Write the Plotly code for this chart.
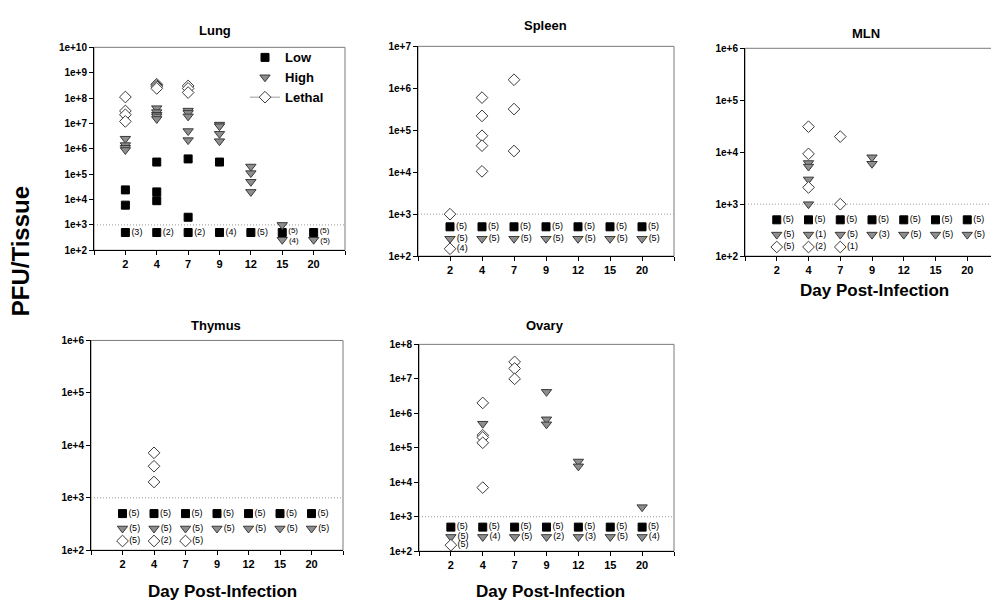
import plotly.graph_objects as go

# ---------------- data ----------------
DAYS = [2, 4, 7, 9, 12, 15, 20]
DAY_LABELS = ["2", "4", "7", "9", "12", "15", "20"]

# values plotted at the limit of detection for each group (non-detected animals)
LOD_LOW = 500
LOD_HIGH = 260
LOD_LETHAL = 150
DETECTION_LINE = 1000

# detected titers (PFU/tissue) per organ / group / day
lung_low = {2: [2.4e4, 6e3], 4: [3e5, 2e4, 9e3], 7: [4e5, 2e3], 9: [3e5]}
lung_high = {2: [2.5e6, 1.4e6, 1.1e6, 9e5], 4: [4e7, 2.8e7, 2.2e7, 1.9e7, 1.5e7],
             7: [3.2e7, 2.6e7, 1.9e7, 5e6, 2.2e6], 9: [9e6, 7.8e6, 3.9e6, 2e6],
             12: [2e5, 1.1e5, 5e4, 2e4], 15: [1e3]}
lung_lethal = {2: [1.1e8, 3.1e7, 2.2e7, 1.2e7], 4: [3.5e8, 3.1e8, 2.8e8, 2.4e8],
               7: [3e8, 2.4e8, 1.65e8]}
lung_low_n = {2: 3, 4: 2, 7: 2, 9: 4, 12: 5, 15: 5, 20: 5}
lung_high_n = {15: 4, 20: 5}
lung_lethal_n = {}

spleen_low = {}
spleen_high = {}
spleen_lethal = {2: [1e3], 4: [6e5, 2.2e5, 7.4e4, 4.3e4, 1.05e4], 7: [1.6e6, 3.2e5, 3.2e4]}
spleen_low_n = {2: 5, 4: 5, 7: 5, 9: 5, 12: 5, 15: 5, 20: 5}
spleen_high_n = {2: 5, 4: 5, 7: 5, 9: 5, 12: 5, 15: 5, 20: 5}
spleen_lethal_n = {2: 4}

mln_low = {}
mln_high = {4: [6.2e3, 5.3e3, 3e3, 1e3], 9: [8e3, 6e3]}
mln_lethal = {4: [3.1e4, 9.3e3, 2.1e3], 7: [2e4, 1e3]}
mln_low_n = {2: 5, 4: 5, 7: 5, 9: 5, 12: 5, 15: 5, 20: 5}
mln_high_n = {2: 5, 4: 1, 7: 5, 9: 3, 12: 5, 15: 5, 20: 5}
mln_lethal_n = {2: 5, 4: 2, 7: 1}

thymus_low = {}
thymus_high = {}
thymus_lethal = {4: [7.2e3, 4e3, 2e3]}
thymus_low_n = {2: 5, 4: 5, 7: 5, 9: 5, 12: 5, 15: 5, 20: 5}
thymus_high_n = {2: 5, 4: 5, 7: 5, 9: 5, 12: 5, 15: 5, 20: 5}
thymus_lethal_n = {2: 5, 4: 2, 7: 5}

ovary_low = {}
ovary_high = {4: [5e5], 9: [4.2e6, 6.7e5, 4.8e5], 12: [4e4, 2.9e4], 20: [1.9e3]}
ovary_lethal = {4: [2e6, 2.3e5, 2e5, 1.4e5, 7e3], 7: [3.1e7, 2e7, 1e7]}
ovary_low_n = {2: 5, 4: 5, 7: 5, 9: 5, 12: 5, 15: 5, 20: 5}
ovary_high_n = {2: 5, 4: 4, 7: 5, 9: 2, 12: 3, 15: 5, 20: 4}
ovary_lethal_n = {2: 5}

# ---------------- styling ----------------
W, H = 999, 610
FONT = "Liberation Sans, Arial, sans-serif"

STYLE = {
    "Low": dict(symbol="square", size=8, color="#000000", line=dict(color="#000000", width=1)),
    "High": dict(symbol="triangle-down", size=9, color="#8e8e8e", line=dict(color="#3a3a3a", width=1)),
    "Lethal": dict(symbol="diamond", size=9, color="#ffffff", line=dict(color="#3a3a3a", width=1)),
}
LOD = {"Low": LOD_LOW, "High": LOD_HIGH, "Lethal": LOD_LETHAL}

# panel boxes in pixels: (left, right, top, bottom), y decades range
PANELS = [
    dict(name="Lung", box=(86, 337, 34, 241), yr=(2, 10), title_xy=(207, 17), xlabel=None,
         data=(lung_low, lung_high, lung_lethal), n=(lung_low_n, lung_high_n, lung_lethal_n)),
    dict(name="Spleen", box=(410, 666, 33, 247), yr=(2, 7), title_xy=(537, 12), xlabel=None,
         data=(spleen_low, spleen_high, spleen_lethal), n=(spleen_low_n, spleen_high_n, spleen_lethal_n)),
    dict(name="MLN", box=(737, 991, 35, 247), yr=(2, 6), title_xy=(858, 20), xlabel=(866, 282),
         data=(mln_low, mln_high, mln_lethal), n=(mln_low_n, mln_high_n, mln_lethal_n)),
    dict(name="Thymus", box=(83, 335, 333, 547), yr=(2, 6), title_xy=(208, 318), xlabel=(214, 589),
         data=(thymus_low, thymus_high, thymus_lethal), n=(thymus_low_n, thymus_high_n, thymus_lethal_n)),
    dict(name="Ovary", box=(411, 666, 337, 548), yr=(2, 8), title_xy=(537, 318), xlabel=(542, 589),
         data=(ovary_low, ovary_high, ovary_lethal), n=(ovary_low_n, ovary_high_n, ovary_lethal_n)),
]

fig = go.Figure()
layout = dict(width=W, height=H, margin=dict(l=0, r=0, t=0, b=0), autosize=False,
              paper_bgcolor="white", plot_bgcolor="white",
              font=dict(family=FONT, color="#000000"), showlegend=True)
annotations = []
shapes = []

pos = {d: i + 1 for i, d in enumerate(DAYS)}

for k, p in enumerate(PANELS):
    ax = "" if k == 0 else str(k + 1)
    xa, ya = "x" + ax, "y" + ax
    l, r, t, b = p["box"]
    lo, hi = p["yr"]
    layout["xaxis" + ax] = dict(
        domain=[l / W, r / W], anchor=ya, range=[0, 8],
        tickvals=list(range(0, 9)), ticktext=[""] + DAY_LABELS + [""],
        ticks="outside", ticklen=4, tickcolor="#000", showgrid=False, zeroline=False,
        showline=True, linecolor="#000", linewidth=1,
        tickfont=dict(size=11, family=FONT, weight="bold"), fixedrange=True)
    layout["yaxis" + ax] = dict(
        domain=[1 - b / H, 1 - t / H], anchor=xa, type="log", range=[lo, hi],
        tickvals=[10 ** e for e in range(lo, hi + 1)],
        ticktext=["1e+%d" % e for e in range(lo, hi + 1)],
        ticks="outside", ticklen=4, tickcolor="#000", showgrid=False, zeroline=False,
        showline=True, linecolor="#000", linewidth=1,
        tickfont=dict(size=10, family=FONT, weight="bold"), fixedrange=True)
    # frame (top/right lines in gray)
    shapes.append(dict(type="rect", xref=xa + " domain", yref=ya + " domain", x0=0, x1=1, y0=0, y1=1,
                       line=dict(color="#7a7a7a", width=1), layer="below"))
    # limit of detection line
    shapes.append(dict(type="line", xref=xa + " domain", yref=ya, x0=0, x1=1,
                       y0=DETECTION_LINE, y1=DETECTION_LINE,
                       line=dict(color="#9a9a9a", width=1, dash="1px,2px"), layer="below"))
    annotations.append(dict(text="<b>%s</b>" % p["name"], x=p["title_xy"][0] / W, y=1 - p["title_xy"][1] / H,
                            xref="paper", yref="paper", showarrow=False, xanchor="center", yanchor="middle",
                            font=dict(size=13, family=FONT)))
    if p["xlabel"]:
        annotations.append(dict(text="<b>Day Post-Infection</b>", x=p["xlabel"][0] / W, y=1 - p["xlabel"][1] / H,
                                xref="paper", yref="paper", showarrow=False, xanchor="center", yanchor="middle",
                                font=dict(size=17, family=FONT)))

    # days where low and high count labels sit very close (lung panel only)
    crowded = set(p["n"][0]) & set(p["n"][1]) if k == 0 else set()
    for g, grp in enumerate(["Low", "High", "Lethal"]):
        st = STYLE[grp]
        det = p["data"][g]
        xs, ys = [], []
        for d, vals in det.items():
            for v in vals:
                xs.append(pos[d])
                ys.append(v)
        if xs:
            fig.add_trace(go.Scatter(x=xs, y=ys, xaxis=xa, yaxis=ya, mode="markers", marker=st,
                                     showlegend=False, hoverinfo="skip"))
        nd = p["n"][g]
        if nd:
            # markers at the detection limit
            fig.add_trace(go.Scatter(
                x=[pos[d] for d in nd], y=[LOD[grp]] * len(nd), xaxis=xa, yaxis=ya,
                mode="markers", marker=st, showlegend=False, hoverinfo="skip", cliponaxis=False))
            # count labels (nudged apart where crowded)
            ty, tsize = [], []
            for d in nd:
                f = 1.0
                if d in crowded:
                    f = 1.16 if grp == "Low" else 1 / 1.16
                ty.append(LOD[grp] * f)
                tsize.append(8 if d in crowded else 9)
            fig.add_trace(go.Scatter(
                x=[pos[d] for d in nd], y=ty, xaxis=xa, yaxis=ya,
                mode="markers+text", marker=dict(size=st["size"], opacity=0),
                text=["(%d)" % c for c in nd.values()],
                textposition="middle right", textfont=dict(size=tsize, family=FONT, color="#000"),
                showlegend=False, hoverinfo="skip", cliponaxis=False))

# legend entries
fig.add_trace(go.Scatter(x=[None], y=[None], xaxis="x", yaxis="y", mode="markers", name="Low",
                         marker=STYLE["Low"]))
fig.add_trace(go.Scatter(x=[None], y=[None], xaxis="x", yaxis="y", mode="markers", name="High",
                         marker=STYLE["High"]))
fig.add_trace(go.Scatter(x=[None], y=[None], xaxis="x", yaxis="y", mode="lines+markers", name="Lethal",
                         marker=STYLE["Lethal"], line=dict(color="#9a9a9a", width=1)))

annotations.append(dict(text="<b>PFU/Tissue</b>", x=12 / W, y=1 - 242 / H, xref="paper", yref="paper",
                        showarrow=False, textangle=-90, xanchor="center", yanchor="middle",
                        font=dict(size=24, family=FONT)))

layout["legend"] = dict(x=237 / W, y=1 - 29 / H, xanchor="left", yanchor="top",
                        bgcolor="rgba(0,0,0,0)", borderwidth=0, tracegroupgap=0,
                        font=dict(size=13, family=FONT, weight="bold"))
layout["annotations"] = annotations
layout["shapes"] = shapes
fig.update_layout(**layout)

fig.write_html("out.html")
